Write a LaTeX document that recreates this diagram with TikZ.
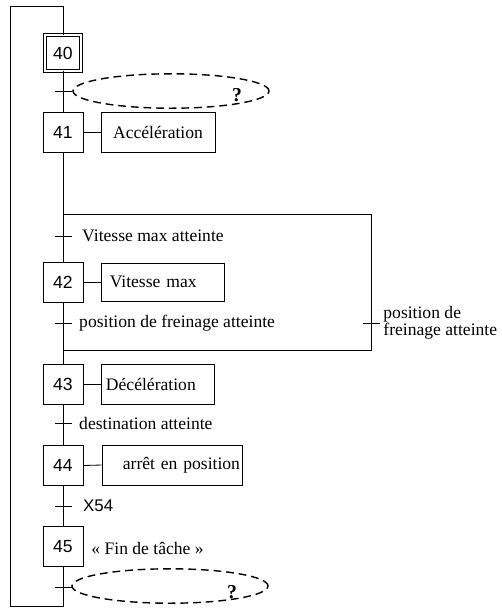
\documentclass[tikz,border=0pt]{standalone}
\usepackage{fontspec}
\setmainfont{Liberation Serif}
\newfontfamily\stepfont{Liberation Sans}
\usetikzlibrary{calc,positioning,shapes.geometric}
\tikzset{
	etape/.style={draw,minimum width=1cm,minimum height=1cm,inner sep=0pt,font=\stepfont\fontsize{12.5}{13}\selectfont},
	etapeInit/.style={etape,double,double distance=1.5pt,minimum width=0.9cm,minimum height=0.9cm},
	action/.style={draw,minimum height=1cm,inner ysep=0pt},
	recep/.style={right,inner sep=2pt},
	question/.style={draw,ellipse,line width=1pt,dash pattern=on 5.5pt off 3.5pt,minimum width=4.9cm,minimum height=0.86cm},
	qmark/.style={inner sep=0pt,font=\fontsize{14}{15}\selectfont\bfseries},
}
\begin{document}
\begin{tikzpicture}[x=0.025cm,y=-0.025cm,line width=0.6pt,font=\fontsize{12.5}{13}\selectfont]
	\useasboundingbox (0,0) rectangle (502,608);
	% etapes
	\node [etapeInit] (s40) at (63,53) {40};
	\node [etape] (s41) at (63,132) {41};
	\node [etape] (s42) at (63,282) {42};
	\node [etape] (s43) at (63,384) {43};
	\node [etape] (s44) at (63,465.5) {44};
	\node [etape] (s45) at (63,546.5) {45};
	% actions
	\node [action,minimum width=2.85cm] (a41) at (158,132) {Accélération};
	\node [action,minimum height=0.95cm,inner xsep=0.22cm,text width=2.635cm,align=left] (a42) at (162.5,282) {Vitesse max};
	\node [action,inner xsep=0.12cm,text width=2.6cm,align=left] (a43) at (158,384) {Décélération};
	\node [action,inner xsep=0.05cm,text width=3.4cm,align=right] (a44) at (172,465) {arrêt en position};
	\node [right,inner sep=0pt] (a45) at (91,548) {« Fin de tâche »};
	\foreach \n in {41,42,43,44} \draw (s\n.east) -- (a\n.west);
	% transitions
	\coordinate (t40) at (63,91);
	\coordinate (t41) at (63,236);
	\coordinate (t42) at (63,323);
	\coordinate (t42b) at (371,323);
	\coordinate (t43) at (63,423);
	\coordinate (t44) at (63,506);
	\coordinate (t45) at (63,587);
	\foreach \t in {t40,t41,t42,t42b,t43,t44,t45} \draw ($(\t)+(-8,0)$) -- ($(\t)+(9,0)$);
	\node [recep] (r41) at ($(t41)+(16,0)$) {Vitesse max atteinte};
	\node [recep] (r42) at ($(t42)+(13,0)$) {position de freinage atteinte};
	\node [recep,align=left,inner sep=0pt,font=\fontsize{12.5}{11}\selectfont] (r42b) at ($(t42b)+(12,0)$) {position de\\freinage atteinte};
	\node [recep] (r43) at ($(t43)+(13,0)$) {destination atteinte};
	\node [recep,font=\stepfont\fontsize{12}{13}\selectfont] (r44) at ($(t44)+(17,0)$) {X54};
	\node [question] (q40) at (171,91) {};
	\node [qmark] (qm40) at (237,95) {?};
	\node [question] (q45) at (170,586) {};
	\node [qmark] (qm45) at (232,592) {?};
	% liaisons
	\coordinate (div) at (63,214);
	\coordinate (conv) at (63,350);
	\coordinate (loopTop) at (63,6);
	\coordinate (loopBot) at (63,606);
	\draw (s40) -- (s41) (s41) -- (s42) (s42) -- (s43) (s43) -- (s44) (s44) -- (s45);
	\draw (div) -- (371,214) -- (371,350) -- (conv);
	\draw (s45.south) -- (loopBot) -- (10,606) |- (loopTop) -- (s40.north);
\end{tikzpicture}
\end{document}
